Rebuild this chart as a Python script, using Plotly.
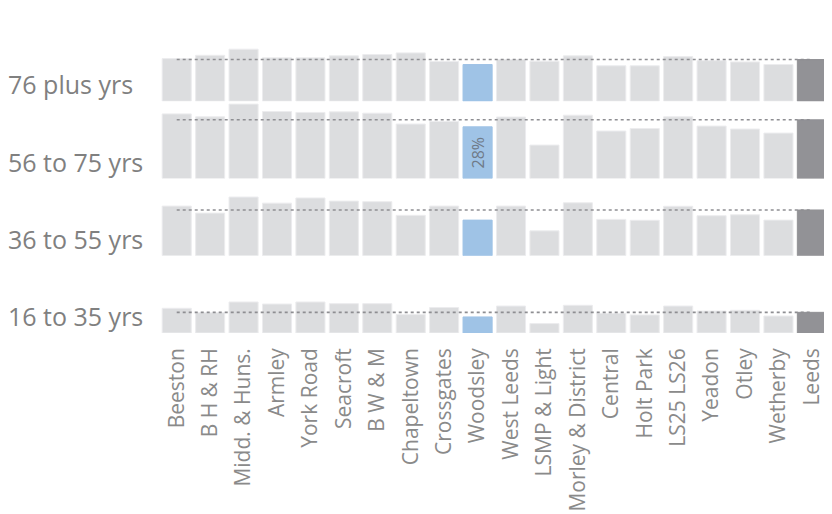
import plotly.graph_objects as go
from plotly.subplots import make_subplots

areas = ["Beeston", "B H & RH", "Midd. & Huns.", "Armley", "York Road", "Seacroft",
         "B W & M", "Chapeltown", "Crossgates", "Woodsley", "West Leeds", "LSMP & Light",
         "Morley & District", "Central", "Holt Park", "LS25 LS26", "Yeadon", "Otley",
         "Wetherby", "Leeds"]

age_groups = ["76 plus yrs", "56 to 75 yrs", "36 to 55 yrs", "16 to 35 yrs"]

v_76_plus = [23.1, 24.9, 28.2, 23.5, 23.5, 24.6, 25.3, 26.2, 21.5, 19.9,
             22.6, 21.7, 24.6, 19.2, 19.2, 24.2, 22.0, 21.3, 19.9, 22.6]
v_56_75 = [35.0, 33.4, 40.3, 36.3, 35.8, 36.1, 35.4, 29.5, 30.9, 28.0,
           33.3, 18.1, 34.3, 25.7, 27.1, 33.4, 28.4, 26.8, 24.6, 31.8]
v_36_55 = [26.9, 23.1, 31.8, 28.5, 31.3, 29.6, 29.3, 21.9, 26.9, 19.3,
           26.9, 13.5, 28.7, 19.7, 19.2, 26.8, 21.7, 22.2, 19.3, 24.8]
v_16_35 = [13.4, 11.0, 16.8, 15.7, 16.8, 15.9, 15.9, 10.0, 13.8, 8.7,
           14.6, 5.1, 15.0, 10.7, 9.8, 14.6, 11.9, 12.3, 9.2, 11.2]

series = [v_76_plus, v_56_75, v_36_55, v_16_35]
highlight = "Woodsley"
total = "Leeds"
labelled = ("56 to 75 yrs", "Woodsley")

GREY = "#dcdddf"
BLUE = "#9fc3e6"
DARK = "#929296"

# the page body has an 8px margin, so the figure is offset by 8px
W, H = 824, 506
ML, MR, MT, MB = 152, 0, 16, 181.3
y_max = 41.85

fig = make_subplots(rows=4, cols=1, shared_xaxes=True, vertical_spacing=0)

for i, (grp, vals) in enumerate(zip(age_groups, series), start=1):
    colors = [BLUE if a == highlight else DARK if a == total else GREY for a in areas]
    lines = ["#ececee" if a not in (highlight, total) else c for a, c in zip(areas, colors)]
    texts = [f"{v:.0f}%" if (grp, a) == labelled else "" for a, v in zip(areas, vals)]
    fig.add_trace(go.Bar(
        x=areas, y=vals, marker=dict(color=colors, line=dict(color=lines, width=1)),
        text=texts, textposition="inside", textangle=-90, insidetextanchor="middle",
        textfont=dict(family="Open Sans", size=16, color="#6f7a88"),
        showlegend=False, hoverinfo="skip"), row=i, col=1)
    leeds_val = vals[areas.index(total)]
    fig.add_trace(go.Scatter(
        x=[areas[0], areas[-1]], y=[leeds_val, leeds_val], mode="lines",
        line=dict(color="#8e8e92", width=1.6, dash="dot"),
        showlegend=False, hoverinfo="skip"), row=i, col=1)
    fig.add_annotation(text=grp, xref="paper", x=(-2 - ML) / (W - ML - MR), xanchor="left",
                       yref=f"y{'' if i == 1 else i} domain", y=0.22, yanchor="middle",
                       showarrow=False, font=dict(family="Open Sans", size=25, color="#808080"))
    fig.update_yaxes(range=[0, y_max], visible=False, row=i, col=1)

px_per_unit = 33.43
x_right = -0.5 + (W - ML - MR) / px_per_unit
fig.update_xaxes(range=[-0.5, x_right], showgrid=False, zeroline=False, showline=False,
                 ticks="", tickangle=-90, ticklabelstandoff=10, automargin=False,
                 tickfont=dict(family="Open Sans", size=21, color="#8a8a8a"))
fig.update_xaxes(showticklabels=False)
fig.update_xaxes(showticklabels=True, row=4, col=1)

fig.update_layout(width=W, height=H,
                  margin=dict(l=ML, r=MR, t=MT, b=MB, pad=0, autoexpand=False),
                  bargap=0.13, plot_bgcolor="white", paper_bgcolor="white",
                  uniformtext=dict(minsize=8, mode="show"))

fig.write_html("out.html")
